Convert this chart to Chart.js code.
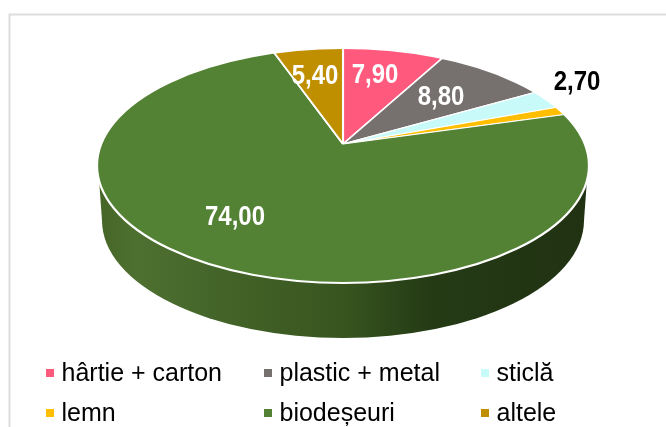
<!DOCTYPE html>
<html>
<head>
<meta charset="utf-8">
<script src="https://cdn.jsdelivr.net/npm/chart.js@4"></script>
<style>
  html, body { margin: 0; background: #fff; }
  canvas { display: block; }
</style>
</head>
<body>
<canvas id="wasteChart" width="666" height="427"></canvas>
<script>
const categories = ["hârtie + carton", "plastic + metal", "sticlă", "lemn", "biodeșeuri", "altele"];
const values = [7.9, 8.8, 2.7, 1.2, 74.0, 5.4];
const valueLabels = ["7,90", "8,80", "2,70", null, "74,00", "5,40"];
const colors = ["#FF5A7E", "#76716F", "#C9FAFA", "#FFBF00", "#548235", "#BF8F00"];

// where the value labels sit, and their colour
const labelPos = [[375, 76], [441, 98], [577, 83], null, [235, 218], [315, 77]];
const labelColors = ["#fff", "#fff", "#000", null, "#fff", "#fff"];

// legend grid, 3 columns x 2 rows
const legendCols = [46, 264, 481];
const legendRows = [373, 413];

// the tilted pie: top face ellipse + apex, which is above the ellipse centre (perspective)
const face = { x: 343, y: 165.5, rx: 246, ry: 117.5 };
const apex = { x: 343, y: 144 };
const grow = 1.5;
const tilt = 0.468;
const depth = 55;

function ellipsePath(ctx, x, y, rx, ry) {
  ctx.beginPath();
  ctx.ellipse(x, y, rx, ry, 0, 0, Math.PI * 2);
}

const tiltedPie = {
  id: "tiltedPie",
  beforeDraw(chart) {
    const ctx = chart.ctx;
    // frame
    ctx.save();
    ctx.strokeStyle = "#DDDDDD";
    ctx.lineWidth = 2;
    ctx.beginPath();
    ctx.moveTo(9.5, 427);
    ctx.lineTo(9.5, 14.5);
    ctx.lineTo(666, 14.5);
    ctx.stroke();
    ctx.restore();
  },
  beforeDatasetsDraw(chart) {
    const ctx = chart.ctx;
    const area = chart.chartArea;
    const lowY = face.y + depth;

    // side wall of the big green slice
    const wall = ctx.createLinearGradient(face.x - face.rx, 0, face.x + face.rx, 0);
    wall.addColorStop(0, "#456526");
    wall.addColorStop(0.08, "#4D7030");
    wall.addColorStop(0.3, "#416127");
    wall.addColorStop(0.5, "#38551F");
    wall.addColorStop(0.68, "#243A15");
    wall.addColorStop(1, "#213212");
    ctx.save();
    ctx.fillStyle = wall;
    ellipsePath(ctx, face.x, lowY, face.rx - 5, face.ry);
    ctx.fill();
    ctx.beginPath();
    ctx.moveTo(face.x - face.rx + 1, face.y);
    ctx.lineTo(face.x - face.rx + 5, lowY);
    ctx.lineTo(face.x + face.rx - 5, lowY);
    ctx.lineTo(face.x + face.rx - 1, face.y);
    ctx.closePath();
    ctx.fill();
    ctx.restore();

    // slices are drawn oversized and cut to the face ellipse
    ctx.save();
    ellipsePath(ctx, face.x, face.y, face.rx, face.ry);
    ctx.clip();
    ctx.translate(apex.x, apex.y);
    ctx.scale(grow, grow * tilt);
    ctx.translate(-(area.left + area.right) / 2, -(area.top + area.bottom) / 2);
  },
  afterDatasetsDraw(chart) {
    const ctx = chart.ctx;
    ctx.restore();

    ctx.save();
    ctx.strokeStyle = "#fff";
    ctx.lineWidth = 2.2;
    ellipsePath(ctx, face.x, face.y, face.rx, face.ry);
    ctx.stroke();

    // value labels, a bit taller than the plain font as in the original
    ctx.font = "bold 24px 'Liberation Sans'";
    ctx.textAlign = "center";
    ctx.textBaseline = "middle";
    valueLabels.forEach((text, i) => {
      if (!text) return;
      ctx.save();
      ctx.fillStyle = labelColors[i];
      ctx.translate(labelPos[i][0], labelPos[i][1]);
      ctx.scale(1, 1.12);
      ctx.fillText(text, 0, 0);
      ctx.restore();
    });

    // legend
    ctx.font = "25px 'Liberation Sans'";
    ctx.textAlign = "left";
    categories.forEach((name, i) => {
      const x = legendCols[i % 3];
      const y = legendRows[Math.floor(i / 3)];
      ctx.fillStyle = colors[i];
      ctx.fillRect(x, y - 4, 8, 8);
      ctx.fillStyle = "#000";
      ctx.fillText(name, x + 15.5, y + 1);
    });
    ctx.restore();
  },
};

new Chart(document.getElementById("wasteChart").getContext("2d"), {
  type: "pie",
  data: {
    labels: categories,
    datasets: [
      {
        data: values,
        backgroundColor: colors,
        borderColor: "#fff",
        borderWidth: 1.4,
        clip: false,
      },
    ],
  },
  options: {
    responsive: false,
    animation: false,
    layout: { padding: 0 },
    plugins: {
      legend: { display: false },
      tooltip: { enabled: false },
    },
  },
  plugins: [tiltedPie],
});
</script>
</body>
</html>
